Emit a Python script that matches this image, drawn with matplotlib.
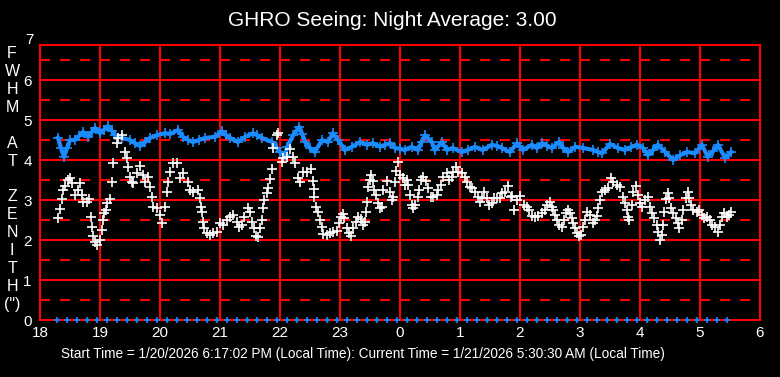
import matplotlib.pyplot as plt
import numpy as np

# Blue series (upper trace): hour of night (18 = 6 PM, 24+ = after midnight), FWHM value
blue_hours = [18.30, 18.35, 18.40, 18.45, 18.50, 18.58, 18.65, 18.72, 18.80, 18.86, 18.92,
              19.00, 19.06, 19.13, 19.20, 19.25, 19.37, 19.50, 19.58, 19.67, 19.75, 19.83,
              19.95, 20.08, 20.17, 20.30, 20.38, 20.47, 20.55, 20.65, 20.75, 20.92, 21.03,
              21.10, 21.17, 21.30, 21.42, 21.55, 21.62, 21.70, 21.87, 21.95, 22.00, 22.08,
              22.12, 22.22, 22.32, 22.37, 22.42, 22.50, 22.58, 22.70, 22.80, 22.88, 22.97,
              23.08, 23.20, 23.33, 23.45, 23.55, 23.67, 23.75, 23.83, 23.92, 24.00, 24.08,
              24.20, 24.30, 24.36, 24.42, 24.53, 24.58, 24.70, 24.78, 24.88, 25.03, 25.13,
              25.25, 25.38, 25.53, 25.62, 25.70, 25.83, 25.95, 26.05, 26.20, 26.28, 26.37,
              26.45, 26.53, 26.65, 26.72, 26.80, 26.92, 27.05, 27.22, 27.30, 27.37, 27.50,
              27.63, 27.75, 27.85, 27.95, 28.05, 28.13, 28.22, 28.30, 28.42, 28.55, 28.67,
              28.78, 28.92, 29.03, 29.13, 29.22, 29.30, 29.42, 29.52]
blue_vals = [4.55, 4.30, 4.08, 4.30, 4.50, 4.50, 4.60, 4.70, 4.58, 4.70, 4.80,
             4.67, 4.75, 4.85, 4.72, 4.62, 4.55, 4.50, 4.42, 4.35, 4.45, 4.55,
             4.62, 4.67, 4.65, 4.75, 4.58, 4.50, 4.45, 4.50, 4.55, 4.58, 4.72,
             4.62, 4.55, 4.45, 4.58, 4.67, 4.62, 4.55, 4.45, 4.30, 4.20, 4.12,
             4.33, 4.62, 4.83, 4.65, 4.45, 4.30, 4.20, 4.50, 4.45, 4.67, 4.50,
             4.25, 4.33, 4.45, 4.38, 4.42, 4.33, 4.38, 4.42, 4.30, 4.28, 4.25,
             4.33, 4.25, 4.45, 4.62, 4.45, 4.25, 4.45, 4.25, 4.30, 4.20, 4.25,
             4.33, 4.25, 4.38, 4.35, 4.30, 4.20, 4.42, 4.25, 4.38, 4.30, 4.42,
             4.36, 4.30, 4.45, 4.30, 4.20, 4.33, 4.30, 4.25, 4.20, 4.17, 4.40,
             4.30, 4.25, 4.32, 4.38, 4.30, 4.12, 4.25, 4.38, 4.20, 4.00, 4.12,
             4.20, 4.17, 4.38, 4.08, 4.22, 4.38, 4.05, 4.20]

# White series (lower trace)
white_hours = [18.30, 18.33, 18.37, 18.38, 18.42, 18.47, 18.50, 18.53, 18.58, 18.63, 18.67,
               18.70, 18.72, 18.78, 18.82, 18.85, 18.87, 18.88, 18.92, 18.95, 19.00, 19.03,
               19.05, 19.07, 19.10, 19.12, 19.17, 19.20, 19.21, 19.28, 19.30, 19.37, 19.42,
               19.45, 19.47, 19.50, 19.53, 19.55, 19.62, 19.67, 19.72, 19.75, 19.80, 19.83,
               19.87, 19.88, 19.95, 20.00, 20.03, 20.08, 20.12, 20.13, 20.17, 20.22, 20.28,
               20.33, 20.38, 20.47, 20.50, 20.55, 20.63, 20.67, 20.68, 20.70, 20.71, 20.73,
               20.78, 20.83, 20.88, 20.95, 21.00, 21.05, 21.12, 21.17, 21.22, 21.28, 21.32,
               21.37, 21.40, 21.47, 21.50, 21.53, 21.57, 21.60, 21.63, 21.67, 21.70, 21.72,
               21.73, 21.78, 21.80, 21.83, 21.87, 21.88, 21.95, 21.97, 22.03, 22.05, 22.12,
               22.17, 22.22, 22.25, 22.30, 22.33, 22.38, 22.45, 22.52, 22.55, 22.56, 22.57,
               22.60, 22.63, 22.67, 22.70, 22.72, 22.78, 22.83, 22.88, 22.95, 22.98, 23.02,
               23.05, 23.07, 23.12, 23.15, 23.18, 23.22, 23.27, 23.30, 23.35, 23.38, 23.42,
               23.43, 23.45, 23.47, 23.50, 23.52, 23.55, 23.57, 23.60, 23.63, 23.67, 23.70,
               23.72, 23.78, 23.83, 23.87, 23.88, 23.92, 23.93, 23.97, 24.00, 24.05, 24.08,
               24.12, 24.13, 24.17, 24.20, 24.22, 24.25, 24.30, 24.32, 24.35, 24.38, 24.43,
               24.47, 24.52, 24.55, 24.62, 24.63, 24.68, 24.72, 24.78, 24.82, 24.87, 24.88,
               24.93, 24.97, 25.03, 25.08, 25.12, 25.17, 25.20, 25.25, 25.30, 25.33, 25.37,
               25.40, 25.45, 25.48, 25.53, 25.57, 25.62, 25.67, 25.70, 25.75, 25.80, 25.85,
               25.87, 25.90, 25.95, 26.00, 26.07, 26.12, 26.15, 26.20, 26.25, 26.30, 26.37,
               26.42, 26.45, 26.50, 26.53, 26.55, 26.58, 26.62, 26.65, 26.70, 26.73, 26.77,
               26.80, 26.83, 26.87, 26.88, 26.92, 26.95, 26.98, 27.02, 27.05, 27.08, 27.12,
               27.17, 27.22, 27.25, 27.28, 27.30, 27.33, 27.37, 27.42, 27.47, 27.52, 27.55,
               27.62, 27.67, 27.72, 27.75, 27.78, 27.80, 27.82, 27.87, 27.88, 27.93, 27.97,
               28.00, 28.03, 28.08, 28.13, 28.17, 28.20, 28.23, 28.28, 28.30, 28.33, 28.37,
               28.38, 28.40, 28.43, 28.47, 28.48, 28.52, 28.55, 28.60, 28.63, 28.65, 28.70,
               28.72, 28.77, 28.80, 28.82, 28.85, 28.88, 28.95, 28.98, 29.03, 29.07, 29.12,
               29.17, 29.20, 29.25, 29.30, 29.33, 29.37, 29.40, 29.45, 29.48, 29.52]
white_vals = [2.55, 2.77, 3.02, 3.25, 3.35, 3.50, 3.55, 3.42, 3.12, 3.25, 3.42,
              3.12, 2.95, 2.95, 3.02, 2.58, 2.33, 2.10, 1.95, 1.88, 2.00, 2.25,
              2.50, 2.67, 2.75, 2.92, 3.02, 3.45, 3.92, 4.42, 4.55, 4.62, 4.20,
              4.05, 3.83, 3.58, 3.45, 3.42, 3.67, 3.85, 3.62, 3.45, 3.58, 3.33,
              3.08, 2.83, 2.80, 2.63, 2.42, 2.83, 3.20, 3.45, 3.70, 3.92, 3.92,
              3.55, 3.67, 3.45, 3.25, 3.20, 3.25, 3.05, 2.83, 2.70, 2.45, 2.30,
              2.17, 2.12, 2.17, 2.20, 2.42, 2.38, 2.50, 2.58, 2.63, 2.45, 2.33,
              2.38, 2.58, 2.80, 2.70, 2.45, 2.30, 2.10, 2.08, 2.30, 2.50, 2.80,
              3.00, 3.17, 3.30, 3.52, 3.77, 4.30, 4.62, 4.67, 3.95, 4.05, 4.08,
              4.27, 4.08, 3.92, 3.55, 3.45, 3.70, 3.70, 3.77, 3.48, 3.27, 3.08,
              2.83, 2.70, 2.50, 2.33, 2.15, 2.12, 2.17, 2.20, 2.23, 2.42, 2.58,
              2.65, 2.55, 2.30, 2.17, 2.10, 2.30, 2.45, 2.58, 2.52, 2.38, 2.45,
              2.70, 2.95, 3.33, 3.50, 3.62, 3.48, 3.25, 3.12, 2.92, 2.80, 2.83,
              3.25, 3.48, 3.20, 3.00, 3.08, 3.45, 3.72, 3.95, 3.62, 3.55, 3.38,
              3.50, 3.38, 3.12, 2.88, 2.80, 2.88, 3.08, 3.25, 3.50, 3.58, 3.48,
              3.30, 3.08, 3.08, 3.12, 3.25, 3.38, 3.58, 3.67, 3.50, 3.58, 3.70,
              3.83, 3.70, 3.67, 3.58, 3.45, 3.33, 3.30, 3.20, 3.08, 2.95, 3.05,
              3.20, 3.05, 2.88, 2.92, 3.05, 3.05, 3.05, 3.17, 3.20, 3.35, 3.08,
              3.10, 2.75, 3.00, 3.10, 2.88, 2.83, 2.75, 2.60, 2.58, 2.60, 2.67,
              2.75, 2.88, 2.95, 2.83, 2.75, 2.63, 2.50, 2.38, 2.33, 2.50, 2.67,
              2.75, 2.67, 2.55, 2.42, 2.30, 2.17, 2.10, 2.12, 2.33, 2.50, 2.70,
              2.63, 2.42, 2.50, 2.60, 2.80, 3.00, 3.20, 3.25, 3.30, 3.55, 3.45,
              3.38, 3.33, 3.08, 2.92, 2.75, 2.58, 2.50, 2.88, 3.20, 3.35, 3.12,
              2.92, 2.83, 3.00, 3.08, 2.83, 2.67, 2.55, 2.38, 2.20, 2.00, 2.12,
              2.38, 2.70, 3.02, 3.17, 3.05, 2.80, 2.67, 2.55, 2.42, 2.30, 2.50,
              2.75, 3.05, 3.20, 3.05, 2.88, 2.75, 2.70, 2.75, 2.63, 2.55, 2.58,
              2.50, 2.38, 2.33, 2.20, 2.38, 2.58, 2.67, 2.58, 2.63, 2.70]

# Blue samples sitting on the zero line (every 10 minutes)
zero_hours = [18.28, 18.45, 18.62, 18.78, 18.95,
              19.12, 19.28, 19.45, 19.62, 19.78, 19.95,
              20.12, 20.28, 20.45, 20.62, 20.78, 20.95,
              21.12, 21.28, 21.45, 21.62, 21.78, 21.95,
              22.12, 22.28, 22.45, 22.62, 22.78, 22.95,
              23.12, 23.28, 23.45, 23.62, 23.78, 23.95,
              24.12, 24.28, 24.45, 24.62, 24.78, 24.95,
              25.12, 25.28, 25.45, 25.62, 25.78, 25.95,
              26.12, 26.28, 26.45, 26.62, 26.78, 26.95,
              27.12, 27.28, 27.45, 27.62, 27.78, 27.95,
              28.12, 28.28, 28.45, 28.62, 28.78, 28.95,
              29.12, 29.28, 29.45]
zero_vals = [0.0] * len(zero_hours)

x_ticks = list(range(18, 31))
x_labels = ['18', '19', '20', '21', '22', '23', '0', '1', '2', '3', '4', '5', '6']
y_ticks = [0, 1, 2, 3, 4, 5, 6]

title = 'GHRO Seeing: Night Average: 3.00'
footer = ('Start Time = 1/20/2026 6:17:02 PM (Local Time): '
          'Current Time = 1/21/2026 5:30:30 AM (Local Time)')
ylabel = 'F\nW\nH\nM\n\nA\nT\n\nZ\nE\nN\nI\nT\nH\n(")'

RED = '#ff0000'
BLUE = '#1a8cff'
plt.rcParams['font.family'] = ['Liberation Sans', 'DejaVu Sans']

W, H = 780, 377
fig = plt.figure(figsize=(W / 100, H / 100), dpi=100, facecolor='black')
ax = fig.add_axes([40 / W, (H - 320) / H, 720 / W, 275 / H], facecolor='black')

ax.set_xlim(18, 30)
ax.set_ylim(0, 6.875)

# grid: solid at integers, dashed at halves
for y in y_ticks[1:]:
    ax.axhline(y, color=RED, lw=1.5, zorder=1)
for y in np.arange(0.5, 7, 1.0):
    ax.axhline(y, color=RED, lw=1.5, ls=(0, (4.8, 4.8)), zorder=1)
for x in x_ticks[1:-1]:
    ax.axvline(x, color=RED, lw=1.5, zorder=1)

ax.plot(blue_hours, blue_vals, color=BLUE, lw=3.0, zorder=2)
ax.plot(blue_hours, blue_vals, ls='none', marker='+', ms=6.5, mew=1.2, color=BLUE, zorder=2)
ax.plot(white_hours, white_vals, ls='none', marker='+', ms=6.5, mew=1.2, color='white', zorder=3)
ax.plot(zero_hours, zero_vals, ls='none', marker='+', ms=5, mew=1.2, color=BLUE,
        zorder=3, clip_on=False)

for s in ax.spines.values():
    s.set_color(RED)
    s.set_linewidth(1.5)

ax.set_xticks(x_ticks)
ax.set_xticklabels(x_labels)
ax.set_yticks(y_ticks)
ax.tick_params(axis='x', length=0, colors='white', labelsize=11, pad=4)
ax.tick_params(axis='y', length=0, colors='white', labelsize=11, pad=6)
ax.text(17.9, 7.0, '7', color='white', fontsize=11, ha='right', va='center', clip_on=False)

fig.text(392 / W, 1 - 20 / H, title, color='white', fontsize=15, ha='center', va='center')
fig.text(363 / W, 1 - 354 / H, footer, color='white', fontsize=9.8, ha='center', va='center')
fig.text(12 / W, 1 - 179 / H, ylabel, color='white', fontsize=11.5, ha='center', va='center',
         linespacing=1.24)

fig.savefig('out.png', dpi=100, facecolor='black')
plt.close(fig)
